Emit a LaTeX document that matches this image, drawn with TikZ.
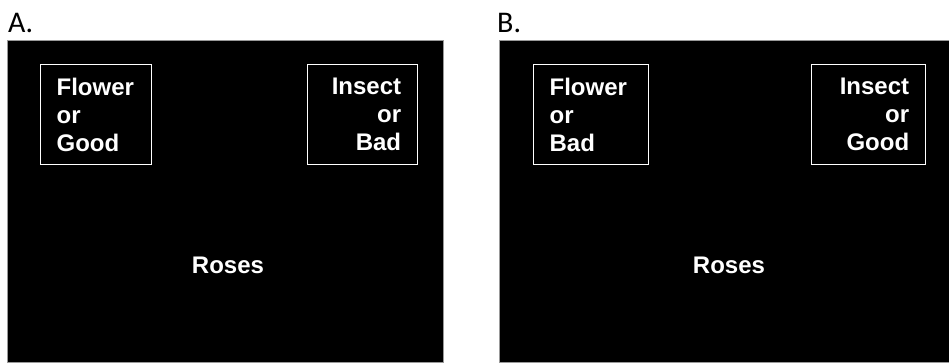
\documentclass[tikz,border=0pt]{standalone}
\usepackage{fontspec}
\setmainfont{Liberation Sans}
\newfontfamily\labelfont{Carlito}
\usetikzlibrary{positioning}

\begin{document}
\begin{tikzpicture}[
    x=1pt, y=-1pt,
    screen/.style={rectangle, draw=black!40, fill=black, line width=0.8pt, inner sep=0pt, anchor=north west, minimum height=322pt},
    choice/.style={rectangle, draw=white, line width=1.3pt, minimum height=100pt, inner xsep=16pt, inner ysep=0pt, text=white, font=\fontsize{24}{28}\selectfont\bfseries},
    leftchoice/.style={choice, align=left},
    rightchoice/.style={choice, align=right},
    target/.style={text=white, inner sep=0pt, font=\fontsize{24}{28}\selectfont\bfseries},
    panellabel/.style={anchor=base west, inner sep=0pt, font=\labelfont\fontsize{30}{30}\selectfont},
]
    \useasboundingbox (0,0) rectangle (949,362);

    % panel A
    \node (labelA) [panellabel] at (8,32) {A.};
    \node (panelA) [screen, minimum width=436pt] at (7,40) {};
    \node (flowerA) [leftchoice, text width=79pt, below right=24pt and 33pt of panelA.north west] {Flower\\or\\Good};
    \node (insectA) [rightchoice, text width=78pt, below left=24pt and 26pt of panelA.north east] {Insect\\or\\Bad};
    \node (rosesA) [target] at (228,265) {Roses};

    % panel B
    \node (labelB) [panellabel] at (497,32) {B.};
    \node (panelB) [screen, minimum width=452pt] at (499,40) {};
    \node (flowerB) [leftchoice, text width=83pt, below right=24pt and 34pt of panelB.north west] {Flower\\or\\Bad};
    \node (insectB) [rightchoice, text width=82pt, below left=24pt and 26pt of panelB.north east] {Insect\\or\\Good};
    \node (rosesB) [target] at (729,265) {Roses};

\end{tikzpicture}
\end{document}
